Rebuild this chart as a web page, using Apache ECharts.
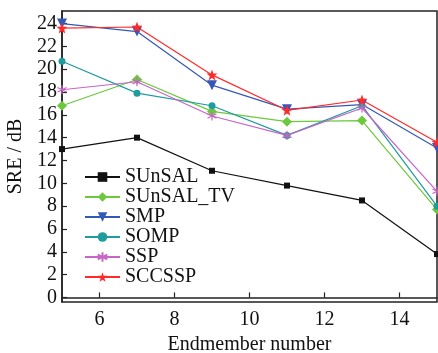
<!DOCTYPE html>
<html>
<head>
<meta charset="utf-8">
<script src="https://cdn.jsdelivr.net/npm/echarts@6/dist/echarts.min.js"></script>
<style>
    html, body { margin: 0; padding: 0; background: #fff; }
    #chart { width: 438px; height: 353px; }
</style>
</head>
<body>
<div id="chart"></div>
<script>
// Data
const endmembers = [5, 7, 9, 11, 13, 15];
const sunsal   = [13.0, 14.0, 11.1, 9.8, 8.5, 3.8];
const sunsalTV = [16.8, 19.1, 16.3, 15.4, 15.5, 7.7];
const smp      = [24.0, 23.3, 18.6, 16.5, 16.9, 13.1];
const somp     = [20.7, 17.9, 16.8, 14.2, 16.8, 8.0];
const ssp      = [18.2, 18.9, 15.9, 14.2, 16.6, 9.3];
const sccssp   = [23.6, 23.7, 19.5, 16.4, 17.3, 13.6];

const xTicks = [6, 8, 10, 12, 14];
const yTicks = [0, 2, 4, 6, 8, 10, 12, 14, 16, 18, 20, 22, 24];

const FONT = 'Liberation Serif';

// star and asterisk marker shapes
const STAR = 'path://M0,-10L2.35,-3.24L9.51,-3.09L3.8,1.24L5.88,8.09L0,4L-5.88,8.09L-3.8,1.24L-9.51,-3.09L-2.35,-3.24Z';
const ASTERISK = 'path://M0,-10L0,10M-8.66,-5L8.66,5M-8.66,5L8.66,-5';

function pairs(values) {
    return endmembers.map((x, i) => [x, values[i]]);
}

function makeSeries(name, values, color, symbol, size, extra = {}) {
    return Object.assign({
        name,
        type: 'line',
        data: pairs(values),
        symbol,
        symbolSize: size,
        clip: false,
        lineStyle: { color, width: 1.2 },
        itemStyle: { color },
        emphasis: { disabled: true },
    }, extra);
}

const series = [
    makeSeries('SUnSAL', sunsal, '#111111', 'rect', 6),
    makeSeries('SUnSAL_TV', sunsalTV, '#6cc83c', 'diamond', 10),
    makeSeries('SMP', smp, '#3558b8', 'triangle', 10, { symbolRotate: 180 }),
    makeSeries('SOMP', somp, '#1f9c9c', 'circle', 7),
    makeSeries('SSP', ssp, '#c865c8', ASTERISK, 9, {
        itemStyle: { color: '#c865c8', borderColor: '#c865c8', borderWidth: 1.2 },
    }),
    makeSeries('SCCSSP', sccssp, '#ff2a2a', STAR, 11),
];

const chart = echarts.init(document.getElementById('chart'), null, { renderer: 'canvas' });

chart.setOption({
    animation: false,
    backgroundColor: '#ffffff',
    textStyle: { fontFamily: FONT },
    grid: {
        left: 62,
        top: 11,
        right: 1,
        bottom: 51,
        containLabel: false,
        outerBoundsMode: 'none',
        show: true,
        borderColor: '#222222',
        borderWidth: 1.5,
        backgroundColor: 'transparent',
    },
    legend: {
        left: 84,
        top: 167,
        padding: 0,
        orient: 'vertical',
        itemWidth: 35,
        itemHeight: 12,
        itemGap: 0,
        textStyle: { fontFamily: FONT, fontSize: 20, color: '#111', lineHeight: 19.8 },
        data: series.map(s => s.name),
    },
    xAxis: {
        type: 'value',
        min: 5,
        max: 15,
        name: 'Endmember number',
        nameLocation: 'middle',
        nameGap: 28,
        nameTextStyle: { fontFamily: FONT, fontSize: 20, color: '#111' },
        axisLine: { lineStyle: { color: '#222', width: 1.5 } },
        axisTick: { inside: true, length: 5, customValues: xTicks, lineStyle: { color: '#222', width: 1.2 } },
        axisLabel: { customValues: xTicks, margin: 8, fontFamily: FONT, fontSize: 20, color: '#111' },
        splitLine: { show: false },
    },
    yAxis: {
        type: 'value',
        min: -0.4,
        max: 25.1,
        name: 'SRE / dB',
        nameLocation: 'middle',
        nameGap: 36,
        nameTextStyle: { fontFamily: FONT, fontSize: 20, color: '#111' },
        axisLine: { show: true, lineStyle: { color: '#222', width: 1.5 } },
        axisTick: { show: true, inside: true, length: 5, customValues: yTicks, lineStyle: { color: '#222', width: 1.2 } },
        axisLabel: { customValues: yTicks, margin: 5, fontFamily: FONT, fontSize: 20, color: '#111' },
        splitLine: { show: false },
    },
    series,
});
</script>
</body>
</html>
